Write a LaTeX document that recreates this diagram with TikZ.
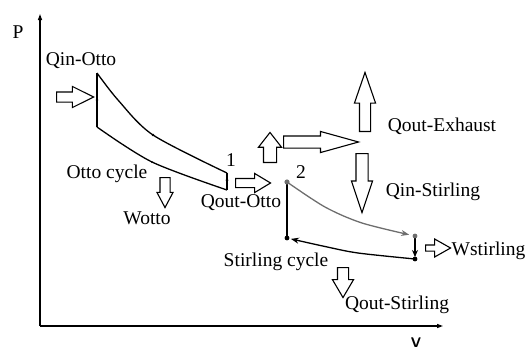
\documentclass[tikz,border=0pt]{standalone}
\usepackage{fontspec}
\setmainfont{Liberation Serif}
\usepackage{tikz}
\usetikzlibrary{arrows.meta, shapes.arrows}

\definecolor{hotgray}{RGB}{110,110,110}
\tikzset{
  lbl/.style={font=\fontsize{19.5}{22}\selectfont, inner sep=0pt},
  cycleline/.style={line width=1.3pt},
  heatarrow/.style={single arrow, draw, line width=1.1pt, fill=white,
    inner sep=0pt, minimum width=0pt, single arrow head indent=0pt, anchor=tail},
  axis/.style={line width=1.2pt, -{Triangle[length=6pt,width=4pt]}}
}

\begin{document}
\begin{tikzpicture}[x=1pt, y=-1pt]
\useasboundingbox (0,0) rectangle (528,351);

% axes
\coordinate (origin) at (40,326);
\coordinate (ytip) at (40,14);
\coordinate (xtip) at (443,326);
\draw[axis] (origin) -- (ytip);
\draw[axis] (origin) -- (xtip);
\node[lbl] (plabel) at (18,32) {P};
\node[lbl, anchor=south, font=\fontsize{14}{16}\selectfont\sffamily\bfseries] (vlabel) at (416,348) {V};

% Otto cycle
\coordinate (o1) at (97,73);
\coordinate (o2) at (97,127);
\coordinate (o3) at (227,190);
\coordinate (o4) at (227,173);
\draw[cycleline] (o1) -- (o2);
\draw[cycleline] (o3) -- (o4);
\draw[cycleline] plot [smooth] coordinates {(o1) (118,100) (153,135) (o4)};
\draw[cycleline] plot [smooth] coordinates {(o2) (152,162) (o3)};
\fill (97,100) circle (1.3pt);
\fill (153,135) circle (1.3pt);
\fill (152,162) circle (1pt);
\fill (227,180) circle (1.5pt);

% Stirling cycle
\coordinate (s1) at (287,238);
\coordinate (s2) at (287,182);
\coordinate (s3) at (415,236);
\coordinate (s4) at (415,259);
\draw[cycleline] (s1) -- (s2);
\draw[cycleline, hotgray, -{Stealth[length=8pt,width=6pt]}, shorten >=6pt]
  plot [smooth] coordinates {(s2) (325,207) (362,223) (s3)};
\draw[cycleline, -{Stealth[length=7pt,width=6pt]}, shorten >=2pt] (s3) -- (s4);
\draw[cycleline, -{Stealth[length=8pt,width=6pt]}, shorten >=4pt]
  plot [smooth] coordinates {(s4) (358,253) (325,246.5) (s1)};
\fill[hotgray] (s2) circle (2.6pt);
\fill[hotgray] (s3) circle (2.4pt);
\fill (s1) circle (2.4pt);
\fill (s4) circle (2.4pt);

% heat and work arrows
\node[heatarrow, minimum height=37pt, inner ysep=4.5pt, single arrow head extend=5.5pt, single arrow tip angle=53] (qinotto) at (56,97) {};
\node[heatarrow, rotate=-90, minimum height=30pt, inner ysep=4.5pt, single arrow head extend=3pt, single arrow tip angle=56] (wotto) at (165,177) {};
\node[heatarrow, minimum height=35pt, inner ysep=4pt, single arrow head extend=5pt, single arrow tip angle=62] (qoutotto) at (235,183) {};
\node[heatarrow, rotate=90, minimum height=30pt, inner ysep=6pt, single arrow head extend=5pt, single arrow tip angle=76] (exhaustup) at (270,163) {};
\node[heatarrow, minimum height=75pt, inner ysep=5.5pt, single arrow head extend=4.5pt, single arrow tip angle=31] (exhaust) at (283,142) {};
\node[heatarrow, rotate=90, minimum height=59pt, inner ysep=5pt, single arrow head extend=5pt, single arrow tip angle=38] (qoutexhaust) at (365,132) {};
\node[heatarrow, rotate=-90, minimum height=59pt, inner ysep=5.5pt, single arrow head extend=4.5pt, single arrow tip angle=37] (qinstirling) at (362,153) {};
\node[heatarrow, minimum height=25pt, inner ysep=2.5pt, single arrow head extend=6pt, single arrow tip angle=59] (wstirling) at (425,248) {};
\node[heatarrow, rotate=-90, minimum height=30pt, inner ysep=5pt, single arrow head extend=5pt, single arrow tip angle=61] (qoutstirling) at (343,267) {};

% labels
\node[lbl] (lqinotto) at (81,61) {Qin-Otto};
\node[lbl] (lottocycle) at (107,174) {Otto cycle};
\node[lbl] (lwotto) at (147,218) {Wotto};
\node[lbl] (lone) at (231,160) {1};
\node[lbl] (lqoutotto) at (241,203) {Qout-Otto};
\node[lbl] (lqoutexhaust) at (442,126) {Qout-Exhaust};
\node[lbl] (ltwo) at (301,172) {2};
\node[lbl] (lqinstirling) at (433,192) {Qin-Stirling};
\node[lbl] (lstirlingcycle) at (276,262) {Stirling cycle};
\node[lbl] (lwstirling) at (488.5,251) {Wstirling};
\node[lbl] (lqoutstirling) at (397,305) {Qout-Stirling};
\end{tikzpicture}
\end{document}
